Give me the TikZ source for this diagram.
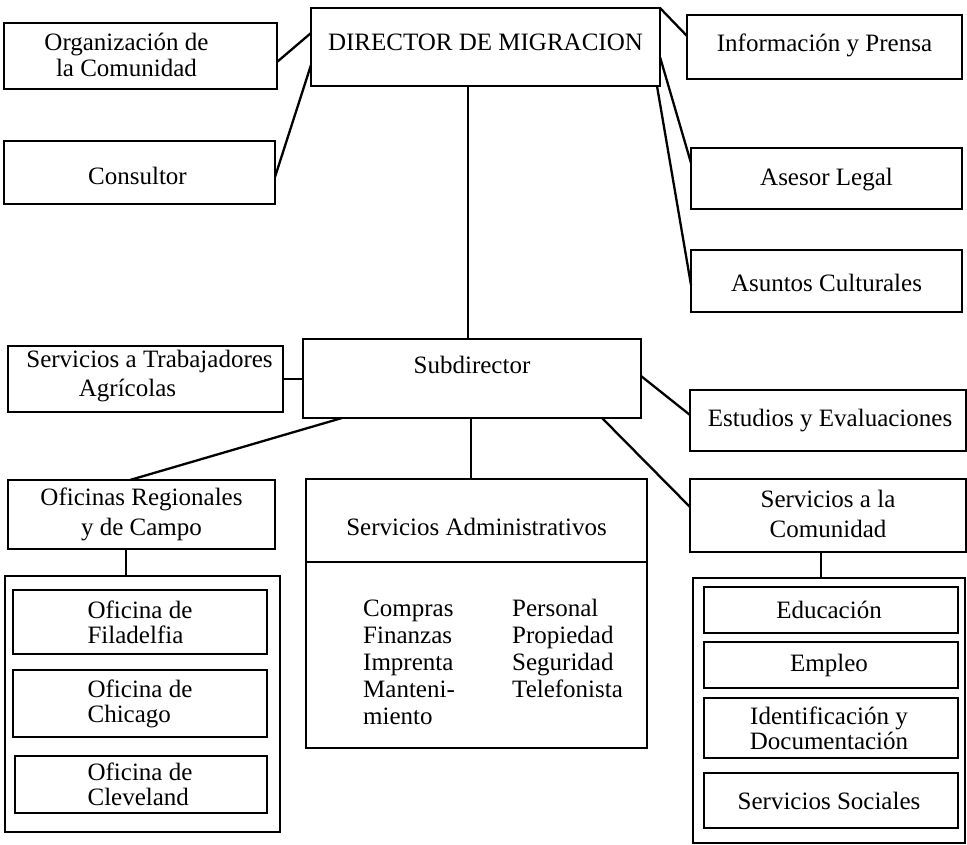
\documentclass[tikz,border=0pt]{standalone}
\usepackage{fontspec}
\setmainfont{Liberation Serif}
\begin{document}
\begin{tikzpicture}[x=1pt,y=-1pt,
  bx/.style={draw, line width=2.1pt, rectangle, inner sep=0pt, outer sep=0pt},
  lbl/.style={align=center, inner sep=0pt, font=\fontsize{25}{27}\selectfont},
  lbll/.style={align=left, inner sep=0pt, font=\fontsize{25}{25}\selectfont},
  ln/.style={line width=2.3pt}]
\useasboundingbox (0,0) rectangle (967,845);
% name, cx, cy, w, h, dx, dy, label options, text
\newcommand\ob[9]{\node[bx, minimum width=#4pt, minimum height=#5pt,
   label={[lbl,#8,xshift=#6pt,yshift=#7pt]center:{#9}}] (#1) at (#2,#3) {};}
% top level
\ob{dir}{485.5}{47}{349}{78}{0}{5}{}{DIRECTOR DE MIGRACION}
\ob{org}{140.5}{56}{273}{66}{-14}{1}{font=\fontsize{25}{26}\selectfont}{Organización de\\la Comunidad}
\ob{cons}{139.5}{172.5}{271}{63}{-2}{-3}{}{Consultor}
\ob{info}{824.5}{47}{275}{64}{0}{2}{}{Información y Prensa}
\ob{ases}{826.5}{178.5}{271}{61}{0}{-1}{}{Asesor Legal}
\ob{asun}{826.5}{281}{271}{62}{0}{-2}{}{Asuntos Culturales}
% second level
\ob{sub}{472}{378.5}{338}{79}{0}{13.5}{}{Subdirector}
\ob{agr}{145.5}{379}{275}{66}{4}{3}{font=\fontsize{25}{29}\selectfont}{Servicios a Trabajadores\\\hspace*{-44pt}Agrícolas}
\ob{est}{828}{420.5}{276}{61}{2}{0}{}{Estudios y Evaluaciones}
\ob{com}{828}{515.5}{276}{73}{0}{2}{font=\fontsize{25}{30}\selectfont}{Servicios a la\\Comunidad}
\ob{ofr}{141.5}{514.5}{267}{69}{0}{0}{font=\fontsize{25}{30}\selectfont}{Oficinas Regionales\\y de Campo}
\ob{admh}{476.5}{520.5}{341}{83}{0}{-6}{}{Servicios Administrativos}
\ob{admb}{476.5}{655}{341}{186}{0}{0}{}{}
\node[lbll, font=\fontsize{25}{27}\selectfont, anchor=north west] (admlist) at (363,599)
  {\makebox[149pt][l]{Compras}Personal\\
   \makebox[149pt][l]{Finanzas}Propiedad\\
   \makebox[149pt][l]{Imprenta}Seguridad\\
   \makebox[149pt][l]{Manteni-}Telefonista\\
   miento};
% left container
\ob{lcont}{142.5}{704}{275}{256}{0}{0}{}{}
\ob{fil}{140}{622}{254}{64}{0}{0}{lbll}{Oficina de\\Filadelfia}
\ob{chi}{140}{703.5}{254}{67}{0}{0}{lbll}{Oficina de\\Chicago}
\ob{cle}{141}{784.5}{252}{57}{-1}{0}{lbll}{Oficina de\\Cleveland}
% right container
\ob{rcont}{829}{710.5}{272}{265}{0}{0}{}{}
\ob{edu}{831}{610}{254}{46}{-2}{0}{}{Educación}
\ob{emp}{831}{665}{254}{46}{-2}{0}{}{Empleo}
\ob{ide}{831}{728}{254}{60}{-2}{0}{font=\fontsize{25}{25}\selectfont}{Identificación y\\Documentación}
\ob{soc}{831}{800.5}{254}{55}{-2}{0}{}{Servicios Sociales}
% connectors
\draw[ln] ([yshift=-6pt]org.east) -- ([yshift=14pt]dir.west);
\draw[ln] ([yshift=-4.5pt]cons.east) -- ([yshift=-18pt]dir.west);
\draw[ln] (dir.north east) -- ([yshift=11pt]info.west);
\draw[ln] ([yshift=-10pt]dir.east) -- ([yshift=15.5pt]ases.west);
\draw[ln] ([xshift=-3pt]dir.south east) -- ([yshift=-4pt]asun.west);
\draw[ln] ([xshift=-17.5pt]dir.south) -- ([xshift=-4pt]sub.north);
\draw[ln] (agr.east) -- (agr.east -| sub.west);
\draw[ln] ([yshift=2.5pt]sub.east) -- ([yshift=5.5pt]est.west);
\draw[ln] ([xshift=130pt]sub.south) -- ([yshift=8.5pt]com.west);
\draw[ln] ([xshift=-130pt]sub.south) -- ([xshift=-11.5pt]ofr.north);
\draw[ln] ([xshift=-1pt]sub.south) -- ([xshift=-5.5pt]admh.north);
\draw[ln] ([xshift=-15.5pt]ofr.south) -- ([xshift=-16.5pt]lcont.north);
\draw[ln] ([xshift=-7pt]com.south) -- ([xshift=-8pt]rcont.north);
\end{tikzpicture}
\end{document}
